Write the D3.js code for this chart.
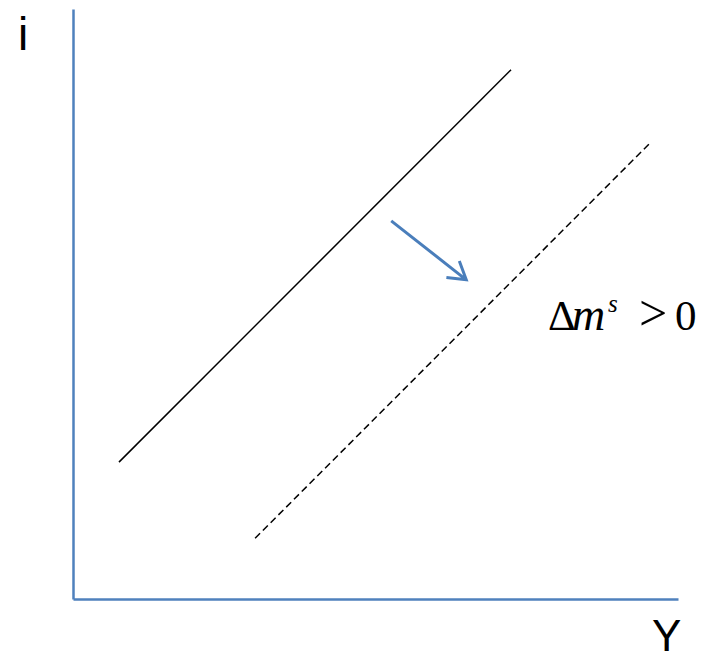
<!DOCTYPE html>
<html>
<head>
<meta charset="utf-8">
<script src="https://cdn.jsdelivr.net/npm/d3@7"></script>
<style>
  body { margin: 0; background: #fff; }
</style>
</head>
<body>
<div id="chart"></div>
<script>
// curve endpoints, in axis units (0..100)
var curveNames = ["LM", "LM2"];
var curveX = [[7.6, 72.4], [30.1, 95.4]];
var curveY = [[23.2, 89.7], [10.3, 77.3]];
// shift arrow
var arrowX = [52.6, 65.0];
var arrowY = [64.1, 54.1];
var axisLabels = ["i", "Y"];

var width = 707, height = 656;
var axisColor = "#4f81bd";

var svg = d3.select("#chart").append("svg")
  .attr("width", width)
  .attr("height", height);

var x = d3.scaleLinear().domain([0, 100]).range([73, 678]);
var y = d3.scaleLinear().domain([0, 100]).range([599, 9]);

// axes without ticks
svg.append("g")
  .attr("transform", "translate(0," + y(0) + ")")
  .call(d3.axisBottom(x).tickValues([]).tickSizeOuter(0));
svg.append("g")
  .attr("transform", "translate(" + x(0) + ",0)")
  .call(d3.axisLeft(y).tickValues([]).tickSizeOuter(0));
svg.selectAll(".domain")
  .attr("stroke", axisColor)
  .attr("stroke-width", 2.5);

// the two curves
var line = d3.line()
  .x(function(d) { return x(d[0]); })
  .y(function(d) { return y(d[1]); });

curveNames.forEach(function(name, i) {
  var pts = curveX[i].map(function(v, j) { return [v, curveY[i][j]]; });
  svg.append("path")
    .datum(pts)
    .attr("class", name)
    .attr("d", line)
    .attr("fill", "none")
    .attr("stroke", "#000")
    .attr("stroke-width", 1.5)
    .attr("stroke-dasharray", i == 1 ? "7,4" : null);
});

// arrow
var ax0 = x(arrowX[0]), ay0 = y(arrowY[0]);
var ax1 = x(arrowX[1]), ay1 = y(arrowY[1]);
var ang = Math.atan2(ay1 - ay0, ax1 - ax0);
var headLen = 20, headAng = 0.55;
svg.append("path")
  .attr("d", "M" + ax0 + "," + ay0 + "L" + ax1 + "," + ay1 +
    "M" + (ax1 - headLen * Math.cos(ang - headAng)) + "," + (ay1 - headLen * Math.sin(ang - headAng)) +
    "L" + ax1 + "," + ay1 +
    "L" + (ax1 - headLen * Math.cos(ang + headAng)) + "," + (ay1 - headLen * Math.sin(ang + headAng)))
  .attr("fill", "none")
  .attr("stroke", "#4a7ebb")
  .attr("stroke-width", 3);

// axis labels
svg.append("text")
  .attr("x", 18).attr("y", 50)
  .attr("font-family", "Liberation Sans, Arial, sans-serif")
  .attr("font-size", 46)
  .text(axisLabels[0]);
svg.append("text")
  .attr("x", 652).attr("y", 651)
  .attr("font-family", "Liberation Sans, Arial, sans-serif")
  .attr("font-size", 44)
  .text(axisLabels[1]);

// Δm^s > 0
var t = svg.append("text")
  .attr("y", 330)
  .attr("font-family", "Liberation Serif, Times New Roman, serif")
  .attr("font-size", 43);
t.append("tspan").attr("x", 548).text("Δ");
t.append("tspan").attr("x", 572).attr("font-style", "italic").attr("font-size", 46).text("m");
t.append("tspan").attr("x", 608).attr("y", 312).attr("font-style", "italic").attr("font-size", 25).text("s");
t.append("tspan").attr("x", 639).attr("y", 330).attr("font-size", 50).text(">");
t.append("tspan").attr("x", 675).text("0");
</script>
</body>
</html>
